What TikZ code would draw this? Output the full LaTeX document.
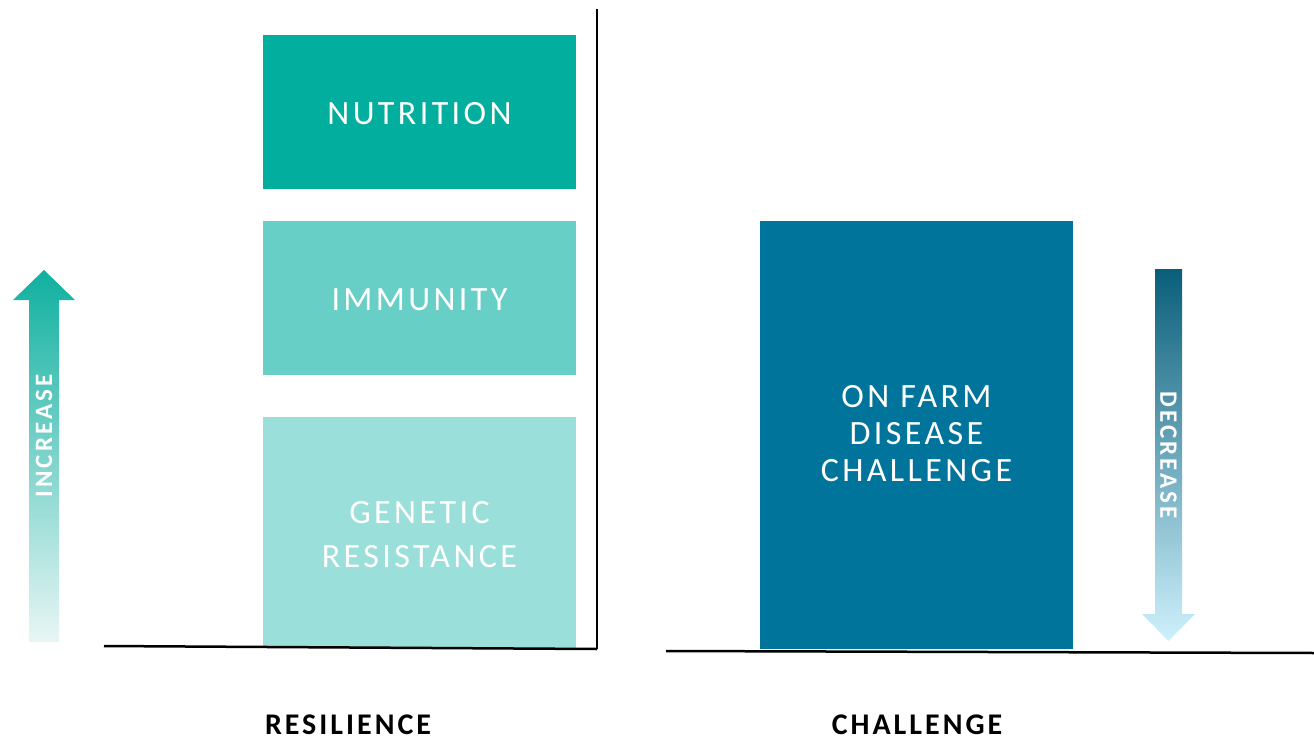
\documentclass[tikz,border=0pt]{standalone}
\usepackage{fontspec}
\setmainfont{Carlito}
\newfontfamily\boxfont[LetterSpace=10]{Carlito}
\newfontfamily\labfont[LetterSpace=10]{Carlito}
\newfontfamily\arrfont[LetterSpace=12]{Carlito}
\definecolor{nutri}{HTML}{02AE9E}
\definecolor{immun}{HTML}{68CFC7}
\definecolor{genet}{HTML}{9ADFDA}
\definecolor{farm}{HTML}{00749B}
\definecolor{inctop}{HTML}{10B0A0}
\definecolor{incbot}{HTML}{E8F6F5}
\definecolor{dectop}{HTML}{0A5E7A}
\definecolor{decbot}{HTML}{CEF1FC}
\tikzset{
  bar/.style={draw=none, inner sep=0pt, outer sep=0pt, text=white, align=center,
    font=\boxfont\fontsize{34}{44}\selectfont},
  axis/.style={line width=2.5pt, black},
  catlabel/.style={font=\labfont\bfseries\fontsize{30}{34}\selectfont, text=black, inner sep=0pt},
  arrtext/.style={font=\arrfont\bfseries\fontsize{25}{30}\selectfont, text=white, inner sep=0pt},
}
\begin{document}
\begin{tikzpicture}[x=1pt,y=-1pt]
\useasboundingbox (0,0) rectangle (1314,741);
% boxes
\node[bar, fill=nutri, minimum width=313pt, minimum height=154pt] (nutrition) at (419.5,112) {};
\node[bar] (nuttext) at (419.5,113.5) {NUTRITION};
\node[bar, fill=immun, minimum width=313pt, minimum height=154pt] (immunity) at (419.5,298) {};
\node[bar] (immtext) at (419.5,299.5) {IMMUNITY};
\node[bar, fill=genet, minimum width=313pt, minimum height=231pt] (genetic) at (419.5,532.5) {};
\node[bar, font=\boxfont\fontsize{34}{44}\selectfont] (gentext) at (419.5,535) {GENETIC\\RESISTANCE};
\node[bar, fill=farm, minimum width=313pt, minimum height=428pt] (farm) at (916.5,435) {};
\node[bar, font=\boxfont\fontsize{34}{37}\selectfont] (farmtext) at (916.5,434) {ON FARM\\DISEASE\\CHALLENGE};
% axes
\coordinate (vtop) at (597,9);
\coordinate (vbot) at (597,649);
\coordinate (l1) at (104,646);
\coordinate (l2) at (597,649);
\coordinate (r1) at (666,651);
\coordinate (r2) at (1314,653);
\draw[line width=2pt] (vtop) -- (vbot);
\draw[axis] (l1) -- (l2);
\draw[axis] (r1) -- (r2);
% increase arrow
\shade[top color=inctop, bottom color=incbot]
  (29,642) -- (29,300) -- (13,300) -- (44,270) -- (75,300) -- (59,300) -- (59,642) -- cycle;
\node[arrtext, rotate=90] (increase) at (44,436) {INCREASE};
% decrease arrow
\shade[top color=dectop, bottom color=decbot]
  (1155,269) -- (1182,269) -- (1182,614) -- (1195,614) -- (1168.5,641) -- (1142,614) -- (1155,614) -- cycle;
\node[arrtext, rotate=-90] (decrease) at (1168.5,455) {DECREASE};
% labels
\node[catlabel] (resil) at (348,725) {RESILIENCE};
\node[catlabel] (chall) at (917,725) {CHALLENGE};
\end{tikzpicture}
\end{document}
